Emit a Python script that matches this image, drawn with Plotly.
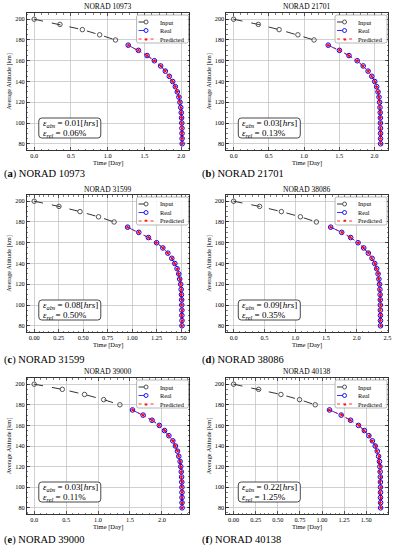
import plotly.graph_objects as go

# ---------------- data ----------------
names = ["NORAD 10973", "NORAD 21701", "NORAD 31599", "NORAD 38086", "NORAD 39000", "NORAD 40138"]
letters = ["a", "b", "c", "d", "e", "f"]

alt_input = [200, 195, 190, 185, 180]
alt_real = [175, 170, 165, 160, 155, 150, 145, 140, 135, 130, 125, 120, 115, 110, 105, 100, 95, 90, 85, 80]

t_input_10973 = [0.0, 0.350, 0.655, 0.890, 1.106]
t_real_10973 = [1.278, 1.417, 1.535, 1.634, 1.720, 1.783, 1.837, 1.883, 1.919, 1.946, 1.968, 1.982, 1.993, 2.000, 2.004, 2.007, 2.009, 2.010, 2.011, 2.012]
t_pred_10973 = [1.279, 1.416, 1.536, 1.633, 1.721, 1.782, 1.838, 1.882, 1.920, 1.945, 1.969, 1.981, 1.994, 1.999, 2.005, 2.006, 2.010, 2.009, 2.012, 2.012]

t_input_21701 = [0.0, 0.351, 0.646, 0.913, 1.143]
t_real_21701 = [1.344, 1.504, 1.639, 1.756, 1.841, 1.911, 1.963, 2.005, 2.033, 2.052, 2.066, 2.075, 2.080, 2.083, 2.085, 2.086, 2.087, 2.088, 2.088, 2.089]
t_pred_21701 = [1.342, 1.505, 1.637, 1.757, 1.839, 1.912, 1.961, 2.006, 2.031, 2.053, 2.064, 2.076, 2.078, 2.084, 2.083, 2.087, 2.086, 2.089, 2.087, 2.090]

t_input_31599 = [0.0, 0.253, 0.468, 0.657, 0.816]
t_real_31599 = [0.954, 1.068, 1.166, 1.250, 1.314, 1.365, 1.405, 1.436, 1.459, 1.476, 1.486, 1.496, 1.501, 1.504, 1.506, 1.507, 1.508, 1.508, 1.509, 1.509]
t_pred_31599 = [0.952, 1.066, 1.168, 1.248, 1.316, 1.363, 1.407, 1.434, 1.461, 1.474, 1.488, 1.494, 1.503, 1.502, 1.508, 1.505, 1.510, 1.506, 1.511, 1.507]

t_input_38086 = [0.0, 0.423, 0.776, 1.085, 1.345]
t_real_38086 = [1.578, 1.757, 1.903, 2.023, 2.115, 2.190, 2.250, 2.294, 2.326, 2.348, 2.362, 2.372, 2.378, 2.382, 2.384, 2.385, 2.386, 2.387, 2.387, 2.388]
t_pred_38086 = [1.575, 1.760, 1.900, 2.026, 2.112, 2.193, 2.247, 2.297, 2.323, 2.351, 2.359, 2.375, 2.375, 2.385, 2.381, 2.388, 2.383, 2.390, 2.384, 2.391]

t_input_39000 = [0.0, 0.440, 0.788, 1.088, 1.342]
t_real_39000 = [1.539, 1.705, 1.845, 1.959, 2.041, 2.109, 2.171, 2.212, 2.244, 2.264, 2.285, 2.295, 2.303, 2.308, 2.311, 2.313, 2.314, 2.315, 2.315, 2.316]
t_pred_39000 = [1.541, 1.703, 1.847, 1.957, 2.043, 2.107, 2.173, 2.210, 2.246, 2.262, 2.287, 2.293, 2.305, 2.306, 2.313, 2.311, 2.316, 2.313, 2.317, 2.314]

t_input_40138 = [0.0, 0.283, 0.535, 0.746, 0.923]
t_real_40138 = [1.085, 1.217, 1.323, 1.413, 1.479, 1.530, 1.570, 1.602, 1.625, 1.640, 1.650, 1.655, 1.658, 1.660, 1.661, 1.661, 1.662, 1.662, 1.663, 1.663]
t_pred_40138 = [1.080, 1.222, 1.318, 1.418, 1.474, 1.535, 1.565, 1.607, 1.620, 1.645, 1.645, 1.660, 1.653, 1.664, 1.656, 1.664, 1.657, 1.664, 1.658, 1.664]

eps_abs = ["0.01", "0.03", "0.08", "0.09", "0.03", "0.22"]
eps_rel = ["0.06", "0.13", "0.50", "0.35", "0.11", "1.25"]

x_dtick = [0.5, 0.5, 0.25, 0.5, 0.5, 0.25]
x_fmt = [".1f", ".1f", ".2f", ".1f", ".1f", ".2f"]
y_ticks = [80, 100, 120, 140, 160, 180, 200]

inputs = [t_input_10973, t_input_21701, t_input_31599, t_input_38086, t_input_39000, t_input_40138]
reals = [t_real_10973, t_real_21701, t_real_31599, t_real_38086, t_real_39000, t_real_40138]
preds = [t_pred_10973, t_pred_21701, t_pred_31599, t_pred_38086, t_pred_39000, t_pred_40138]

# ---------------- layout ----------------
W, H = 398, 550
SERIF = "Liberation Serif"
col_px = [(27, 191), (228, 391)]
row_px = [(13, 150), (195, 332), (378, 514)]
title_y = [7, 189, 371]
caption_y = [174, 360, 540]
caption_x = [2, 202]

fig = go.Figure()
shapes = []
annotations = []

def rounded(x0, y0, x1, y1, r):
    return (f"M{x0+r},{y0} L{x1-r},{y0} Q{x1},{y0} {x1},{y0+r} L{x1},{y1-r} Q{x1},{y1} {x1-r},{y1} "
            f"L{x0+r},{y1} Q{x0},{y1} {x0},{y1-r} L{x0},{y0+r} Q{x0},{y0} {x0+r},{y0} Z")

for i in range(6):
    r, c = divmod(i, 2)
    k = "" if i == 0 else str(i + 1)
    xa, ya = "x" + k, "y" + k
    (px0, px1), (py0, py1) = col_px[c], row_px[r]

    allx = inputs[i] + reals[i] + preds[i]
    xmin, xmax = min(allx), max(allx)
    pad = 0.05 * (xmax - xmin)

    fig.add_trace(go.Scatter(x=inputs[i], y=alt_input, xaxis=xa, yaxis=ya, mode="lines+markers",
                             line=dict(color="black", width=0.8, dash="dash"),
                             marker=dict(symbol="circle-open", size=4.5, color="#444444", line=dict(width=0.9)),
                             showlegend=False))
    fig.add_trace(go.Scatter(x=reals[i], y=alt_real, xaxis=xa, yaxis=ya, mode="lines+markers",
                             line=dict(color="blue", width=0.8, dash="dash"),
                             marker=dict(symbol="circle-open", size=4.6, color="blue", line=dict(width=1.0)),
                             showlegend=False))
    fig.add_trace(go.Scatter(x=preds[i], y=alt_real, xaxis=xa, yaxis=ya, mode="lines+markers",
                             line=dict(color="red", width=0.8, dash="dot"),
                             marker=dict(symbol="star", size=3.6, color="red"),
                             showlegend=False))

    axis_common = dict(showline=True, linecolor="black", linewidth=0.8, mirror="ticks",
                       ticks="inside", ticklen=3, tickwidth=0.6, tickcolor="black",
                       showgrid=True, gridcolor="#c4c4c4", gridwidth=0.8, zeroline=False,
                       ticklabeloverflow="allow",
                       tickfont=dict(family=SERIF, size=6.3, color="black"))
    fig.layout["xaxis" + k] = dict(
        domain=[px0 / W, px1 / W], anchor=ya, range=[xmin - pad, xmax + pad],
        tick0=0, dtick=x_dtick[i], tickformat=x_fmt[i],
        minor=dict(ticks="inside", ticklen=1.5, tickwidth=0.5, tickcolor="black", dtick=x_dtick[i] / 5, showgrid=False),
        title=dict(text="Time [Day]", font=dict(family=SERIF, size=6.5, color="black"), standoff=1),
        **axis_common)
    fig.layout["yaxis" + k] = dict(
        domain=[1 - py1 / H, 1 - py0 / H], anchor=xa, range=[74, 206],
        tickvals=y_ticks,
        minor=dict(ticks="inside", ticklen=1.5, tickwidth=0.5, tickcolor="black", dtick=5, showgrid=False),
        title=dict(text="Average Altitude [km]", font=dict(family=SERIF, size=6.3, color="black"), standoff=2),
        **axis_common)

    xd, yd = xa + " domain", ya + " domain"

    annotations.append(dict(text=names[i], x=(px0 + px1) / 2 / W, y=1 - title_y[r] / H, xref="paper", yref="paper",
                            showarrow=False, xanchor="center", yanchor="middle",
                            font=dict(family=SERIF, size=7.5, color="black")))
    annotations.append(dict(text=f"(<b>{letters[i]}</b>) {names[i]}", x=caption_x[c] / W, y=1 - caption_y[r] / H,
                            xref="paper", yref="paper", showarrow=False, xanchor="left", yanchor="middle",
                            font=dict(family=SERIF, size=10.5, color="black")))

    shapes.append(dict(type="path", xref=xd, yref=yd, xsizemode="pixel", ysizemode="pixel", xanchor=1, yanchor=1,
                       path=rounded(-53, -30, -1, -2, 2), line=dict(color="#999999", width=0.7),
                       fillcolor="rgba(255,255,255,0.85)", layer="above"))
    entries = [("Input", "black", "dash", "circle", "#444444"),
               ("Real", "blue", "dash", "circle", "blue"),
               ("Predicted", "red", "dot", "star", "red")]
    for j, (lab, col, dsh, sym, mcol) in enumerate(entries):
        yy = -9 - j * 8.5
        shapes.append(dict(type="line", xref=xd, yref=yd, xsizemode="pixel", ysizemode="pixel", xanchor=1, yanchor=1,
                           x0=-51, x1=-36, y0=yy, y1=yy, line=dict(color=col, width=0.8, dash=dsh), layer="above"))
        if sym == "circle":
            shapes.append(dict(type="circle", xref=xd, yref=yd, xsizemode="pixel", ysizemode="pixel", xanchor=1, yanchor=1,
                               x0=-45.5, x1=-41.5, y0=yy - 2, y1=yy + 2, line=dict(color=mcol, width=0.9),
                               fillcolor="white", layer="above"))
        else:
            annotations.append(dict(text="★", x=1, y=1, xref=xd, yref=yd, xshift=-43.5, yshift=yy,
                                    showarrow=False, xanchor="center", yanchor="middle",
                                    font=dict(family="DejaVu Sans", size=4.5, color=mcol)))
        annotations.append(dict(text=lab, x=1, y=1, xref=xd, yref=yd, xshift=-32, yshift=yy,
                                showarrow=False, xanchor="left", yanchor="middle",
                                font=dict(family=SERIF, size=6.3, color="black")))

    shapes.append(dict(type="path", xref=xd, yref=yd, xsizemode="pixel", ysizemode="pixel", xanchor=0, yanchor=0,
                       path=rounded(12, 12, 74, 32, 3), line=dict(color="#333333", width=0.9),
                       fillcolor="white", layer="above"))
    annotations.append(dict(text=f"<i>ε<sub>abs</sub></i> = {eps_abs[i]}[<i>hrs</i>]", x=0, y=0, xref=xd, yref=yd,
                            xshift=14, yshift=27, showarrow=False, xanchor="left", yanchor="middle",
                            font=dict(family=SERIF, size=9, color="black")))
    annotations.append(dict(text=f"<i>ε<sub>rel</sub></i> = {eps_rel[i]}%", x=0, y=0, xref=xd, yref=yd,
                            xshift=14, yshift=17, showarrow=False, xanchor="left", yanchor="middle",
                            font=dict(family=SERIF, size=9, color="black")))

fig.update_layout(width=W, height=H, margin=dict(l=0, r=0, t=0, b=0),
                  paper_bgcolor="white", plot_bgcolor="white", showlegend=False,
                  shapes=shapes, annotations=annotations,
                  font=dict(family=SERIF, color="black"))

fig.write_html("out.html", config={"displayModeBar": False, "staticPlot": True},
               post_script="document.body.style.margin='0px';")
